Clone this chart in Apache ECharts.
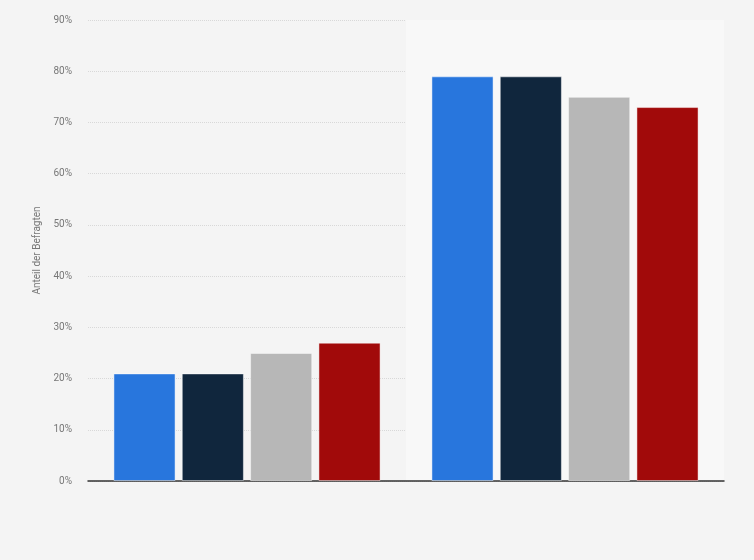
<!DOCTYPE html>
<html>
<head>
<meta charset="utf-8">
<script src="https://cdn.jsdelivr.net/npm/echarts@6/dist/echarts.min.js"></script>
<style>
  html, body { margin: 0; padding: 0; background: #f4f4f4; }
  #main { width: 754px; height: 560px; }
</style>
</head>
<body>
<div id="main"></div>
<script>
var categories = ['Gruppe 1', 'Gruppe 2'];
var serie1 = [21, 79];
var serie2 = [21, 79];
var serie3 = [25, 75];
var serie4 = [27, 73];
var yTicks = [0, 10, 20, 30, 40, 50, 60, 70, 80, 90];

var colors = ['#2876dd', '#10263d', '#b7b7b7', '#a10a0a'];

var myChart = echarts.init(document.getElementById('main'));

function barSeries(name, data, color) {
    return {
        name: name,
        type: 'bar',
        data: data,
        barGap: '10%',
        barCategoryGap: '16%',
        itemStyle: { color: color, borderColor: 'rgba(255,255,255,0.45)', borderWidth: 1 }
    };
}

var option = {
    backgroundColor: '#f4f4f4',
    animation: false,
    grid: { left: 88, right: 30, top: 20, bottom: 79 },
    xAxis: {
        type: 'category',
        data: categories,
        axisLine: { lineStyle: { color: '#333', width: 1.5 } },
        axisTick: { show: false },
        axisLabel: { show: false },
        splitArea: { show: true, areaStyle: { color: ['rgba(0,0,0,0)', '#f8f8f8'] } }
    },
    yAxis: {
        type: 'value',
        min: yTicks[0],
        max: yTicks[yTicks.length - 1],
        interval: 10,
        name: 'Anteil der Befragten',
        nameLocation: 'middle',
        nameGap: 43,
        nameTextStyle: { color: '#777', fontSize: 10, fontFamily: 'Roboto' },
        axisLine: { show: false },
        axisTick: { show: false },
        axisLabel: { formatter: '{value}%', color: '#777', fontSize: 10, fontFamily: 'Roboto', margin: 16 },
        splitLine: { lineStyle: { color: '#d8d8d8', type: 'dotted' } }
    },
    series: [
        barSeries('Serie 1', serie1, colors[0]),
        barSeries('Serie 2', serie2, colors[1]),
        barSeries('Serie 3', serie3, colors[2]),
        barSeries('Serie 4', serie4, colors[3])
    ]
};

myChart.setOption(option);
</script>
</body>
</html>
